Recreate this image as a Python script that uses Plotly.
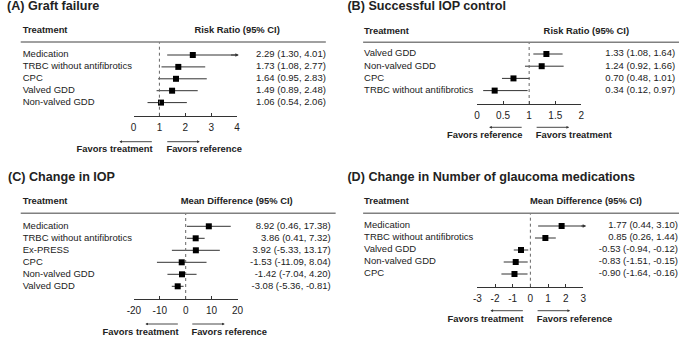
import plotly.graph_objects as go

W, H = 685, 337

# ---------------- data ----------------
a_names = ["Medication", "TRBC without antifibrotics", "CPC", "Valved GDD", "Non-valved GDD"]
a_est = [2.29, 1.73, 1.64, 1.49, 1.06]
a_lo = [1.30, 1.08, 0.95, 0.89, 0.54]
a_hi = [4.01, 2.77, 2.83, 2.48, 2.06]

b_names = ["Valved GDD", "Non-valved GDD", "CPC", "TRBC without antifibrotics"]
b_est = [1.33, 1.24, 0.70, 0.34]
b_lo = [1.08, 0.92, 0.48, 0.12]
b_hi = [1.64, 1.66, 1.01, 0.97]

c_names = ["Medication", "TRBC without antifibrotics", "Ex-PRESS", "CPC", "Non-valved GDD", "Valved GDD"]
c_est = [8.92, 3.86, 3.92, -1.53, -1.42, -3.08]
c_lo = [0.46, 0.41, -5.33, -11.09, -7.04, -5.36]
c_hi = [17.38, 7.32, 13.17, 8.04, 4.20, -0.81]

d_names = ["Medication", "TRBC without antifibrotics", "Valved GDD", "Non-valved GDD", "CPC"]
d_est = [1.77, 0.85, -0.53, -0.83, -0.90]
d_lo = [0.44, 0.26, -0.94, -1.51, -1.64]
d_hi = [3.10, 1.44, -0.12, -0.15, -0.16]

a_ticks = [0, 1, 2, 3, 4]
b_ticks = [0, 0.5, 1, 1.5, 2]
c_ticks = [-20, -10, 0, 10, 20]
d_ticks = [-3, -2, -1, 0, 1, 2, 3]

titles = ["(A) Graft failure", "(B) Successful IOP control",
          "(C) Change in IOP", "(D) Change in Number of glaucoma medications"]
measures = ["Risk Ratio (95% CI)", "Risk Ratio (95% CI)",
            "Mean Difference (95% CI)", "Mean Difference (95% CI)"]
favors = [("Favors treatment", "Favors reference"),
          ("Favors reference", "Favors treatment"),
          ("Favors treatment", "Favors reference"),
          ("Favors treatment", "Favors reference")]
refs = [1, 1, 0, 0]

# ---------------- layout geometry (pixels) ----------------
panels = [
    dict(names=a_names, est=a_est, lo=a_lo, hi=a_hi, ticks=a_ticks, xr=[0, 4], xpx=[129, 234.5],
         header_y=42, axis_y=115.7, row0=55, step=11.9, left_x=16, right_x=325, line=[14, 325],
         title_xy=(0, 7.2), meas_x=191, head_y=31, arr_y=141.7, fav_y=150, li=148.5, ri=162.5, alen=34),
    dict(names=b_names, est=b_est, lo=b_lo, hi=b_hi, ticks=b_ticks, xr=[0, 2], xpx=[479, 585.5],
         header_y=42.3, axis_y=104, row0=54, step=12.2, left_x=364, right_x=681, line=[363, 685],
         title_xy=(347, 7.2), meas_x=547, head_y=31.7, arr_y=127.3, fav_y=136, li=525.5, ri=539, alen=34),
    dict(names=c_names, est=c_est, lo=c_lo, hi=c_hi, ticks=c_ticks, xr=[-20, 20], xpx=[129.3, 235],
         header_y=213.3, axis_y=299, row0=226.3, step=12, left_x=16, right_x=330, line=[14, 335],
         title_xy=(1, 177.7), meas_x=177, head_y=202, arr_y=324, fav_y=332.7, li=175, ri=188, alen=34),
    dict(names=d_names, est=d_est, lo=d_lo, hi=d_hi, ticks=d_ticks, xr=[-3, 3], xpx=[479.5, 587.5],
         header_y=213.3, axis_y=286.7, row0=226, step=12, left_x=364, right_x=684, line=[363, 685],
         title_xy=(347, 177.7), meas_x=533, head_y=202, arr_y=310.7, fav_y=319.3, li=526.7, ri=540, alen=34),
]

FONT = "Liberation Sans, Arial, sans-serif"
TXT = "#222222"


def px(x):
    return x / W


def py(y):
    return 1 - y / H


fig = go.Figure()
annotations = []
shapes = []
layout = {}

# global pixel overlay axes for free-standing text
layout["xaxis9"] = dict(domain=[0, 1], range=[0, W], visible=False, fixedrange=True, anchor="y9")
layout["yaxis9"] = dict(domain=[0, 1], range=[H, 0], visible=False, fixedrange=True, anchor="x9")


def add_text(xs, ys, texts, pos, size, xa="x9", ya="y9", bold=False):
    if bold:
        texts = ["<b>%s</b>" % t for t in texts]
    fig.add_trace(go.Scatter(x=xs, y=ys, text=texts, mode="text", textposition=pos,
                             textfont=dict(family=FONT, size=size, color=TXT),
                             xaxis=xa, yaxis=ya, showlegend=False, hoverinfo="skip",
                             cliponaxis=False))


for k, p in enumerate(panels):
    sfx = "" if k == 0 else str(k + 1)
    xa, ya = "x" + sfx, "y" + sfx
    xo = "x%d" % (k + 5)
    n = len(p["names"])
    yvals = [n - i for i in range(n)]
    row1_px = p["row0"] + (n - 1) * p["step"]
    ymin = 1 - (p["axis_y"] - row1_px) / p["step"]
    ymax = 1 + (row1_px - p["header_y"]) / p["step"]

    fig.add_trace(go.Scatter(
        x=p["est"], y=yvals, xaxis=xa, yaxis=ya, mode="markers",
        marker=dict(symbol="square", size=6, color="black"),
        error_x=dict(type="data", symmetric=False,
                     array=[h - e for h, e in zip(p["hi"], p["est"])],
                     arrayminus=[e - l for e, l in zip(p["est"], p["lo"])],
                     width=0, thickness=1, color="#333333"),
        showlegend=False, hoverinfo="skip", cliponaxis=False))

    layout["xaxis" + sfx] = dict(
        domain=[px(p["xpx"][0]), px(p["xpx"][1])], range=p["xr"], anchor=ya,
        showgrid=False, zeroline=False, showline=True, linecolor="#333333", linewidth=1,
        ticks="inside", ticklen=3, tickwidth=1, tickcolor="#333333",
        tickvals=p["ticks"], ticktext=[("%g" % t) for t in p["ticks"]],
        tickfont=dict(family=FONT, size=10, color=TXT), ticklabelstandoff=2,
        fixedrange=True)
    layout["yaxis" + sfx] = dict(
        domain=[py(p["axis_y"]), py(p["header_y"])], range=[ymin, ymax], anchor=xa,
        visible=False, fixedrange=True)
    # pixel-unit x overlay sharing this panel's y axis (for the row texts)
    layout["xaxis%d" % (k + 5)] = dict(domain=[0, 1], range=[0, W], visible=False,
                                      fixedrange=True, anchor=ya)

    shapes.append(dict(type="line", xref=xa, yref=ya + " domain", x0=refs[k], x1=refs[k],
                       y0=0, y1=1, line=dict(color="#666666", width=1, dash="dot")))
    shapes.append(dict(type="line", xref="paper", yref="paper",
                       x0=px(p["line"][0]), x1=px(p["line"][1]),
                       y0=py(p["header_y"]), y1=py(p["header_y"]),
                       line=dict(color="#808080", width=1.5)))

    # row labels and values
    add_text([p["left_x"]] * n, yvals, p["names"], "middle right", 9.5, xa=xo, ya=ya)
    add_text([p["right_x"]] * n, yvals,
             ["%.2f (%.2f, %.2f)" % (e, l, h) for e, l, h in zip(p["est"], p["lo"], p["hi"])],
             "middle left", 9.5, xa=xo, ya=ya)

    # title and headers
    add_text([p["title_xy"][0]], [p["title_xy"][1]], [titles[k]], "middle right", 12.6, bold=True)
    add_text([p["left_x"], p["meas_x"]], [p["head_y"], p["head_y"]],
             ["Treatment", measures[k]], "middle right", 9.4, bold=True)
    # favors labels
    add_text([p["li"]], [p["fav_y"]], [favors[k][0]], "middle left", 9.4, bold=True)
    add_text([p["ri"]], [p["fav_y"]], [favors[k][1]], "middle right", 9.4, bold=True)

    for e, h, yv in zip(p["est"], p["hi"], yvals):
        if h > p["xr"][1]:
            annotations.append(dict(text="", xref=xa, yref=ya, x=h + 0.06, y=yv,
                                    axref=xa, ayref=ya, ax=h - 0.3, ay=yv, showarrow=True,
                                    arrowhead=2, arrowsize=0.7, arrowwidth=1, arrowcolor="#333333"))
    for tail, tip in [(p["li"], p["li"] - p["alen"]), (p["ri"], p["ri"] + p["alen"])]:
        annotations.append(dict(text="", xref="paper", yref="paper", x=px(tip), y=py(p["arr_y"]),
                                ax=tail - tip, ay=0, showarrow=True, arrowhead=2, arrowsize=0.6,
                                arrowwidth=0.9, arrowcolor="#333333"))

fig.update_layout(width=W, height=H, margin=dict(l=0, r=0, t=0, b=0),
                  paper_bgcolor="white", plot_bgcolor="rgba(0,0,0,0)",
                  font=dict(family=FONT, color=TXT),
                  annotations=annotations, shapes=shapes, **layout)

fig.write_html("out.html", config=dict(displayModeBar=False),
               post_script="document.body.style.margin='0';document.body.style.overflow='hidden';")
